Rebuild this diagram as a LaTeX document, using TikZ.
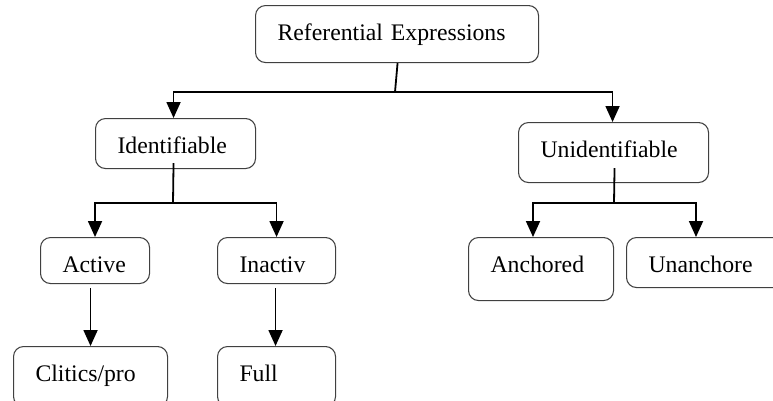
\documentclass[tikz,border=0pt]{standalone}
\usepackage{fontspec}
\setmainfont{Liberation Serif}
\usetikzlibrary{arrows.meta,calc}
\begin{document}
\begin{tikzpicture}[x=0.75pt,y=-0.75pt,
  box/.style={draw=black!75, line width=0.8pt, rounded corners=7.5pt,
    anchor=north west, align=left, inner xsep=16.5pt, inner ysep=0pt,
    text height=26.25pt, font=\fontsize{17.8}{20}\selectfont},
  link/.style={line width=1.35pt, black},
  arr/.style={link, -{Triangle[length=12pt,width=10.5pt]}}]
\useasboundingbox (0,0) rectangle (773,400);

% category boxes (top-left corners)
\node[box, text width=179.25pt, text depth=16.5pt]  (root)    at (255,5)   {Referential Expressions};
\node[box, text width=87pt,     text depth=11.25pt] (ident)   at (95,118)  {Identifiable};
\node[box, text width=109.5pt,  text depth=18.75pt] (unid)    at (518,122) {Unidentifiable};
\node[box, text width=48.75pt,  text depth=8.25pt]  (active)  at (40,237)  {Active};
\node[box, text width=55.5pt,   text depth=8.25pt]  (inact)   at (217,237) {Inactiv};
\node[box, text width=82.5pt,   text depth=18.75pt] (clitics) at (13,346)  {Clitics/pro};
\node[box, text width=55.5pt,   text depth=18.75pt] (full)    at (217,346) {Full};
\node[box, text width=75.75pt,  text depth=21pt]    (anch)    at (468,237) {Anchored};
\node[box, text width=102pt,    text depth=11.25pt] (unanch)  at (626,237) {Unanchore};

% branching points
\coordinate (j1) at (395,92);
\coordinate (j2) at (173,203);
\coordinate (j3) at (614,203);
\coordinate (anchtip)   at ($(anch.north west)+(65,0)$);
\coordinate (unanchtip) at ($(unanch.north west)+(70,0)$);

% root split
\draw[link] ([xshift=0.4pt]root.south) -- (j1);
\draw[arr] (j1) -| ([xshift=-1.5pt]ident.north);
\draw[arr] (j1) -| ([xshift=-0.75pt]unid.north);

% identifiable split
\draw[link] ($(ident.south)+(-2,-6)$) -- (j2);
\draw[arr] (j2) -| (active.north);
\draw[arr] (j2) -| (inact.north);

% unidentifiable split
\draw[link] ($(unid.south)+(1,-15)$) -- (j3);
\draw[link] ($(j3)+(-82,0)$) -- ($(j3)+(83,0)$);
\draw[arr] ($(j3)+(-81,0)$) -- (anchtip);
\draw[arr] ($(j3)+(82,0)$) -- (unanchtip);

% single descents
\draw[arr] ($(active.south -| clitics.north)+(0,4)$) -- (clitics.north);
\draw[arr] ($(inact.south)+(-1,4)$) -- ($(full.north)+(-1,0)$);
\end{tikzpicture}
\end{document}
